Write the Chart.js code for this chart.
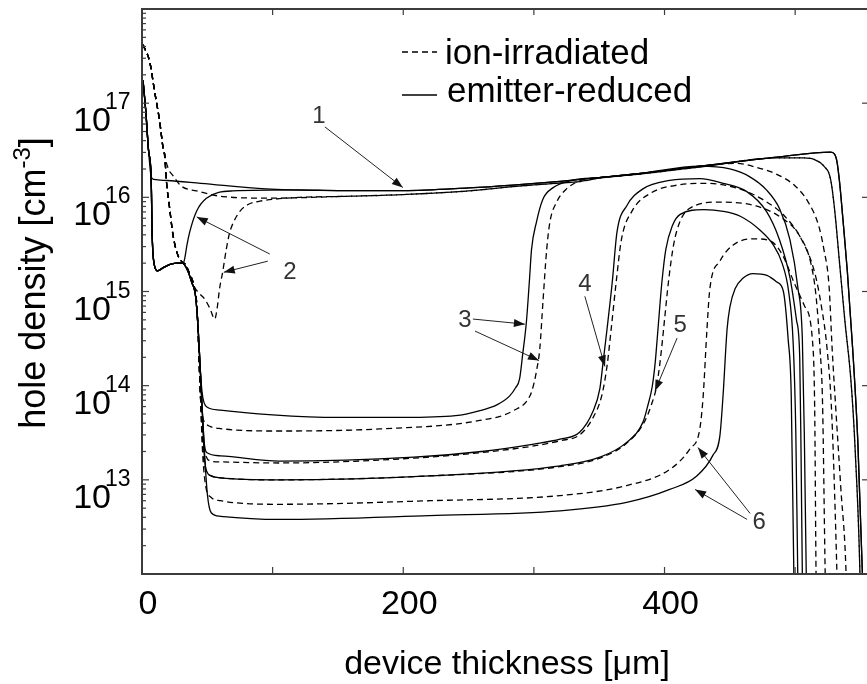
<!DOCTYPE html>
<html>
<head>
<meta charset="utf-8">
<script src="https://cdn.jsdelivr.net/npm/chart.js@4.4.1/dist/chart.umd.min.js"></script>
<style>
  html, body { margin:0; padding:0; background:#fff }
  #wrap { width:867px; height:684px }
</style>
</head>
<body>
<div id="wrap"><canvas id="c" width="867" height="684"></canvas></div>
<script>
// x in µm, y in cm^-3
const solidHead = [[0.8,1.74e17],[3,7.9e16],[5,3.16e16],[7,1.66e16]]
const solidHump = [[7.3,1.0e16],[7.6,5.0e15],[8.2,2.8e15],[9.5,1.9e15],[12,1.66e15],[16,1.78e15],[22,1.95e15],[28,2.0e15]]
const solidDrop = [[31,2.0e15],[35,1.66e15],[38,1.26e15],[41,8.9e14],[43,4.0e14],[44.5,1.6e14]]
const solidTop = [[150,1.18e16],[200,1.18e16],[250,1.26e16],[284,1.35e16],[320,1.48e16],[350,1.62e16],[380,1.78e16],[427,2.14e16],[488,2.69e16],[527,3.02e16],[530,2.9e16],[532,2.4e16],[534,1.45e16],[537,5.0e15],[540,1.6e15],[544,2.5e14],[548,2.5e13],[551.5,1e12],[552,5e11]]

const dashHead = [[0.8,4.17e17],[5.9,2.75e17],[9.7,1.32e17],[13.6,6.3e16],[16.2,3.3e16]]
const dashDescent = [[17.4,2.8e16],[18.7,1.48e16],[21.2,7.6e15],[23.7,4.0e15],[27.6,2.4e15],[30.2,2.1e15],[33,1.95e15],[36,1.6e15],[40,1.12e15]]
const dashDrop = [[42,7.1e14],[43,3.5e14],[44,1.4e14],[45,6.5e13]]
const dashTop = [[150,1.02e16],[200,1.07e16],[250,1.17e16],[284,1.3e16],[320,1.42e16],[335,1.47e16],[350,1.6e16],[380,1.76e16],[427,2.1e16],[488,2.63e16],[505,2.63e16],[515,2.51e16],[522,2.14e16],[527,1.58e16],[530,7.9e15],[534,2.0e15],[538,5.0e14],[543,1.0e14],[546,2.0e13],[549.6,1e12],[550,5e11]]

// emitter-reduced (solid), curves 1..6
const solid1 = [...solidHead, [9,1.55e16],[19,1.51e16],[45,1.41e16],[95,1.23e16], ...solidTop]
const solid2 = [...solidHead, ...solidHump, [31.5,2.0e15],[32.7,2.24e15],[34.5,3.16e15],[36.5,4.27e15],[41.7,7.08e15],[49.3,9.77e15],[69.5,1.17e16],[120,1.2e16], ...solidTop]
const solid3 = [...solidHead, ...solidHump, ...solidDrop, [46,8.5e13],[47.5,6.6e13],[50,5.9e13],[60,5.5e13],[100,4.9e13],[150,4.6e13],[200,4.6e13],[240,4.8e13],[258,5.4e13],[272,6.3e13],[281.5,7.8e13],[286,9.5e13],[289,1.17e14],[291.5,2.2e14],[294.3,4.8e14],[296.5,1.26e15],[298.2,2.8e15],[302,5.5e15],[306.8,9.5e15],[314.5,1.26e16],[330,1.52e16],[350,1.62e16],[380,1.78e16],[427,2.14e16],[450,2.0e16],[465,1.66e16],[478,1.2e16],[488,7.6e15],[496,3.55e15],[502,1.12e15],[505.5,3.16e14],[507,3.16e13],[508.5,1e12],[509,5e11]]
const solid4 = [...solidHead, ...solidHump, ...solidDrop, [46,6.0e13],[47.5,2.6e13],[49.5,1.95e13],[60,1.8e13],[105,1.58e13],[208,1.74e13],[260,2.0e13],[300,2.4e13],[320,2.7e13],[335,3.2e13],[345,5.25e13],[350.5,9.3e13],[353,1.78e14],[356,4.0e14],[360,1.26e15],[363.6,4.27e15],[371,8.1e15],[383.5,1.23e16],[404,1.51e16],[427,1.58e16],[445,1.41e16],[463,1.15e16],[478,7.1e15],[488,3.55e15],[496,1.41e15],[501,5.0e14],[503.5,2.0e14],[504.5,2.0e13],[505.5,1e12],[506,5e11]]
const solid5 = [...solidHead, ...solidHump, ...solidDrop, [46,6.0e13],[47.5,2.0e13],[49,1.3e13],[53,1.1e13],[60,1.05e13],[105,1.0e13],[220,1.1e13],[320,1.41e13],[350.5,1.74e13],[371,2.5e13],[383.5,4.1e13],[387,6.0e13],[390.6,9.8e13],[392.9,1.78e14],[395,4.0e14],[398,1.26e15],[401,2.8e15],[406,5.0e15],[412,6.6e15],[430,7.4e15],[445,7.1e15],[458,6.3e15],[473,4.5e15],[483,3.16e15],[490,2.0e15],[495,1.0e15],[498.5,2.8e14],[500.5,3.2e13],[502,1e12],[502.5,5e11]]
const solid6 = [...solidHead, ...solidHump, ...solidDrop, [46,6.0e13],[48,1.8e13],[50,7.1e12],[53,4.47e12],[60,4.1e12],[105,3.8e12],[220,4.17e12],[320,4.68e12],[371,5.75e12],[404,7.9e12],[424.7,1.1e13],[437,1.82e13],[442.4,2.95e13],[444.8,7.8e13],[447.9,4.0e14],[450,6.8e14],[454,1.07e15],[460,1.38e15],[467.6,1.55e15],[478.4,1.48e15],[486,1.26e15],[491,1.0e15],[494.6,3.16e14],[497,8e13],[499,1e12],[499.5,5e11]]

// ion-irradiated (dashed), curves 1..6
const dashed1 = [...dashHead, [20,2.04e16],[23.7,1.7e16],[30,1.32e16],[41.7,1.17e16],[61.8,1.02e16],[98,9.8e15], ...dashTop]
const dashed2 = [...dashHead, ...dashDescent, [44,9.5e14],[48,8.3e14],[52,6.6e14],[55.7,5.1e14],[57.5,6.6e14],[59.5,1.1e15],[61.8,1.62e15],[64.5,2.8e15],[67.2,4.27e15],[70.5,5.6e15],[74.9,7.1e15],[82,8.5e15],[90.2,9.1e15],[120.8,1.0e16], ...dashTop]
const dashed3 = [...dashHead, ...dashDescent, ...dashDrop, [46.5,4.6e13],[48.5,4.0e13],[52,3.7e13],[60,3.5e13],[105,3.3e13],[182,3.47e13],[258.6,4.27e13],[284,5.4e13],[297,7.8e13],[300,1.05e14],[302.3,1.51e14],[304.5,2.45e14],[307,8e14],[309.8,2.8e15],[312.3,5.5e15],[317.4,8.9e15],[325,1.23e16],[335.3,1.5e16],[350,1.62e16],[380,1.78e16],[427,2.14e16],[455,2.3e16],[470,2.09e16],[485,1.78e16],[500,1.32e16],[510,8.9e15],[518,5.0e15],[522,2.8e15],[526,1.12e15],[528.3,2.5e14],[531,6e13],[535,8e12],[539,1e12],[539.5,5e11]]
const dashed4 = [...dashHead, ...dashDescent, ...dashDrop, [46,3.5e13],[48,2.0e13],[53,1.58e13],[60,1.55e13],[105,1.51e13],[208,1.7e13],[260,1.95e13],[300,2.29e13],[320,2.6e13],[335,3.0e13],[345,4.5e13],[352,7.9e13],[356,1.62e14],[359,3.8e14],[363,1.26e15],[367,3.55e15],[375,7.1e15],[390,1.12e16],[410,1.35e16],[430,1.41e16],[455,1.26e16],[475,9.5e15],[492,6.3e15],[505,3.55e15],[515,1.58e15],[520,7.1e14],[524.4,2.5e14],[528,5.0e13],[532,1e12],[532.5,5e11]]
const dashed5 = [...dashHead, ...dashDescent, ...dashDrop, [46,3.0e13],[48,1.4e13],[53,1.1e13],[60,1.05e13],[105,1.0e13],[220,1.1e13],[320,1.38e13],[350.5,1.7e13],[371,2.45e13],[384,3.98e13],[390,6.3e13],[394,1.0e14],[397,2.0e14],[400,5.0e14],[403,1.26e15],[407,3.16e15],[412,5.6e15],[419,7.6e15],[442,8.9e15],[470,8.1e15],[490,6.0e15],[503,3.98e15],[512,2.0e15],[516,8.9e14],[519,2.5e14],[521,6.3e13],[523,1e12],[523.5,5e11]]
const dashed6 = [...dashHead, ...dashDescent, ...dashDrop, [46,2.5e13],[48.5,9.0e12],[53,6.5e12],[60,6.0e12],[105,5.5e12],[220,6.0e12],[320,6.8e12],[371,8.7e12],[404,1.29e13],[419.5,2.14e13],[427,3.47e13],[429.6,7.8e13],[432.5,4.0e14],[434.7,1.07e15],[442.4,2.1e15],[452.3,3.1e15],[467.6,3.63e15],[480.6,3.47e15],[490.6,2.4e15],[499,1.26e15],[507,7.1e14],[513.7,2.5e14],[515,5e13],[516,1e12],[516.5,5e11]]

const xTicks = [0, 100, 200, 300, 400, 500]
const xTickLabels = [0, 200, 400]
const yDecades = [13, 14, 15, 16, 17]

// curve numbers and their arrows, in data units
const noteText = ['1', '2', '3', '4', '5', '6']
const noteX = [135.4, 113.2, 247.2, 339, 411.9, 472.4]
const noteY = [7.2e16, 1.6e15, 4.9e14, 1.2e15, 4.4e14, 3.5e12]
const arrows = [
  [140, 5.6e16, 199.7, 1.27e16],
  [97.8, 2.5e15, 41.9, 6.2e15],
  [96.3, 2.1e15, 62.6, 1.6e15],
  [253.3, 5.1e14, 293.1, 4.5e14],
  [254.9, 3.8e14, 303.9, 1.85e14],
  [339, 8.9e14, 354.4, 1.6e14],
  [409.6, 3.2e14, 392.7, 8.8e13],
  [465.5, 4.4e12, 425.6, 2.2e13],
  [463.2, 3.8e12, 423.4, 7.9e12],
]

const FONT = '"Liberation Sans", Arial, sans-serif'
const pts = arr => arr.map(([x, y]) => ({ x, y }))
const line = (data, dashed) => ({
  data: pts(data), showLine: true, pointRadius: 0, borderColor: '#000', borderWidth: 1.3,
  borderDash: dashed ? [6, 4] : [], cubicInterpolationMode: 'monotone', fill: false,
})

const deco = {
  id: 'deco',
  afterDraw(chart) {
    const { ctx, chartArea: a, scales: { x, y } } = chart
    const seg = (x1, y1, x2, y2) => { ctx.beginPath(); ctx.moveTo(x1, y1); ctx.lineTo(x2, y2); ctx.stroke() }
    ctx.save()
    // frame: left, top, bottom (right edge falls off the picture)
    ctx.strokeStyle = '#3c3c3c'
    ctx.lineWidth = 2
    ctx.beginPath()
    ctx.moveTo(a.right, a.top); ctx.lineTo(a.left, a.top); ctx.lineTo(a.left, a.bottom); ctx.lineTo(a.right, a.bottom)
    ctx.stroke()

    // inward ticks
    ctx.lineWidth = 1.2
    xTicks.forEach(v => {
      const px = x.getPixelForValue(v)
      seg(px, a.bottom, px, a.bottom - 7)
      seg(px, a.top, px, a.top + 6)
    })
    for (let e = 12; e < 18; e++) for (let m = 1; m < 10; m++) {
      const py = y.getPixelForValue(m * Math.pow(10, e))
      seg(a.left, py, a.left + (m === 1 ? 7 : 4), py)
      if (m === 1) seg(a.right, py, a.right - 5, py)
    }

    ctx.fillStyle = '#000'
    // x tick labels
    ctx.font = `34px ${FONT}`
    ctx.textAlign = 'center'
    ctx.textBaseline = 'alphabetic'
    xTickLabels.forEach(v => ctx.fillText(String(v), x.getPixelForValue(v) + 6, 614))

    // y tick labels 10^n
    yDecades.forEach(e => {
      const py = y.getPixelForValue(Math.pow(10, e))
      ctx.font = `34px ${FONT}`
      ctx.textAlign = 'right'
      ctx.fillText('10', 111, py + 28)
      ctx.font = `23px ${FONT}`
      ctx.textAlign = 'left'
      ctx.fillText(String(e), 105, py + 6)
    })

    // axis titles
    ctx.font = `34px ${FONT}`
    ctx.textAlign = 'center'
    ctx.fillText('device thickness [\u03bcm]', 507, 674)

    ctx.save()
    ctx.translate(45, 283)
    ctx.rotate(-Math.PI / 2)
    const p1 = 'hole density [cm', sup = '-3', p2 = ']'
    ctx.font = `36px ${FONT}`
    const w1 = ctx.measureText(p1).width, w3 = ctx.measureText(p2).width
    ctx.font = `24px ${FONT}`
    const w2 = ctx.measureText(sup).width
    let sx = -(w1 + w2 + w3) / 2
    ctx.textAlign = 'left'
    ctx.font = `36px ${FONT}`
    ctx.fillText(p1, sx, 0)
    ctx.font = `24px ${FONT}`
    ctx.fillText(sup, sx + w1, -15)
    ctx.font = `36px ${FONT}`
    ctx.fillText(p2, sx + w1 + w2, 0)
    ctx.restore()

    // legend
    ctx.strokeStyle = '#000'
    ctx.lineWidth = 1.3
    ctx.setLineDash([6, 4])
    seg(402, 52, 437, 52)
    ctx.setLineDash([])
    seg(402, 95, 437, 95)
    ctx.font = `35px ${FONT}`
    ctx.textAlign = 'left'
    ctx.fillText('ion-irradiated', 445, 64)
    ctx.fillText('emitter-reduced', 447, 102)

    // curve numbers
    ctx.font = `24px ${FONT}`
    ctx.fillStyle = '#333'
    ctx.textAlign = 'center'
    ctx.textBaseline = 'middle'
    noteText.forEach((t, i) => ctx.fillText(t, x.getPixelForValue(noteX[i]), y.getPixelForValue(noteY[i])))

    // arrows
    ctx.strokeStyle = '#222'
    ctx.fillStyle = '#111'
    ctx.lineWidth = 1
    arrows.forEach(([x1, y1, x2, y2]) => {
      const ax = x.getPixelForValue(x1), ay = y.getPixelForValue(y1)
      const bx = x.getPixelForValue(x2), by = y.getPixelForValue(y2)
      const ang = Math.atan2(by - ay, bx - ax)
      seg(ax, ay, bx, by)
      ctx.beginPath()
      ctx.moveTo(bx, by)
      ctx.lineTo(bx - 11 * Math.cos(ang) + 4 * Math.sin(ang), by - 11 * Math.sin(ang) - 4 * Math.cos(ang))
      ctx.lineTo(bx - 11 * Math.cos(ang) - 4 * Math.sin(ang), by - 11 * Math.sin(ang) + 4 * Math.cos(ang))
      ctx.closePath()
      ctx.fill()
    })
    ctx.restore()
  }
}

new Chart(document.getElementById('c'), {
  type: 'scatter',
  data: {
    datasets: [
      line(dashed1, true), line(dashed2, true), line(dashed3, true),
      line(dashed4, true), line(dashed5, true), line(dashed6, true),
      line(solid1), line(solid2), line(solid3), line(solid4), line(solid5), line(solid6),
    ]
  },
  options: {
    responsive: false, animation: false, devicePixelRatio: 1,
    layout: { padding: { top: 9, right: 0, left: 0, bottom: 0 } },
    plugins: { legend: { display: false }, tooltip: { enabled: false } },
    scales: {
      x: { type: 'linear', min: 0, max: 555, afterFit: s => { s.height = 110 },
        ticks: { display: false }, grid: { display: false }, border: { display: false } },
      y: { type: 'logarithmic', min: 1e12, max: 1e18, afterFit: s => { s.width = 142 },
        ticks: { display: false }, grid: { display: false }, border: { display: false } },
    }
  },
  plugins: [deco]
})
</script>
</body>
</html>
